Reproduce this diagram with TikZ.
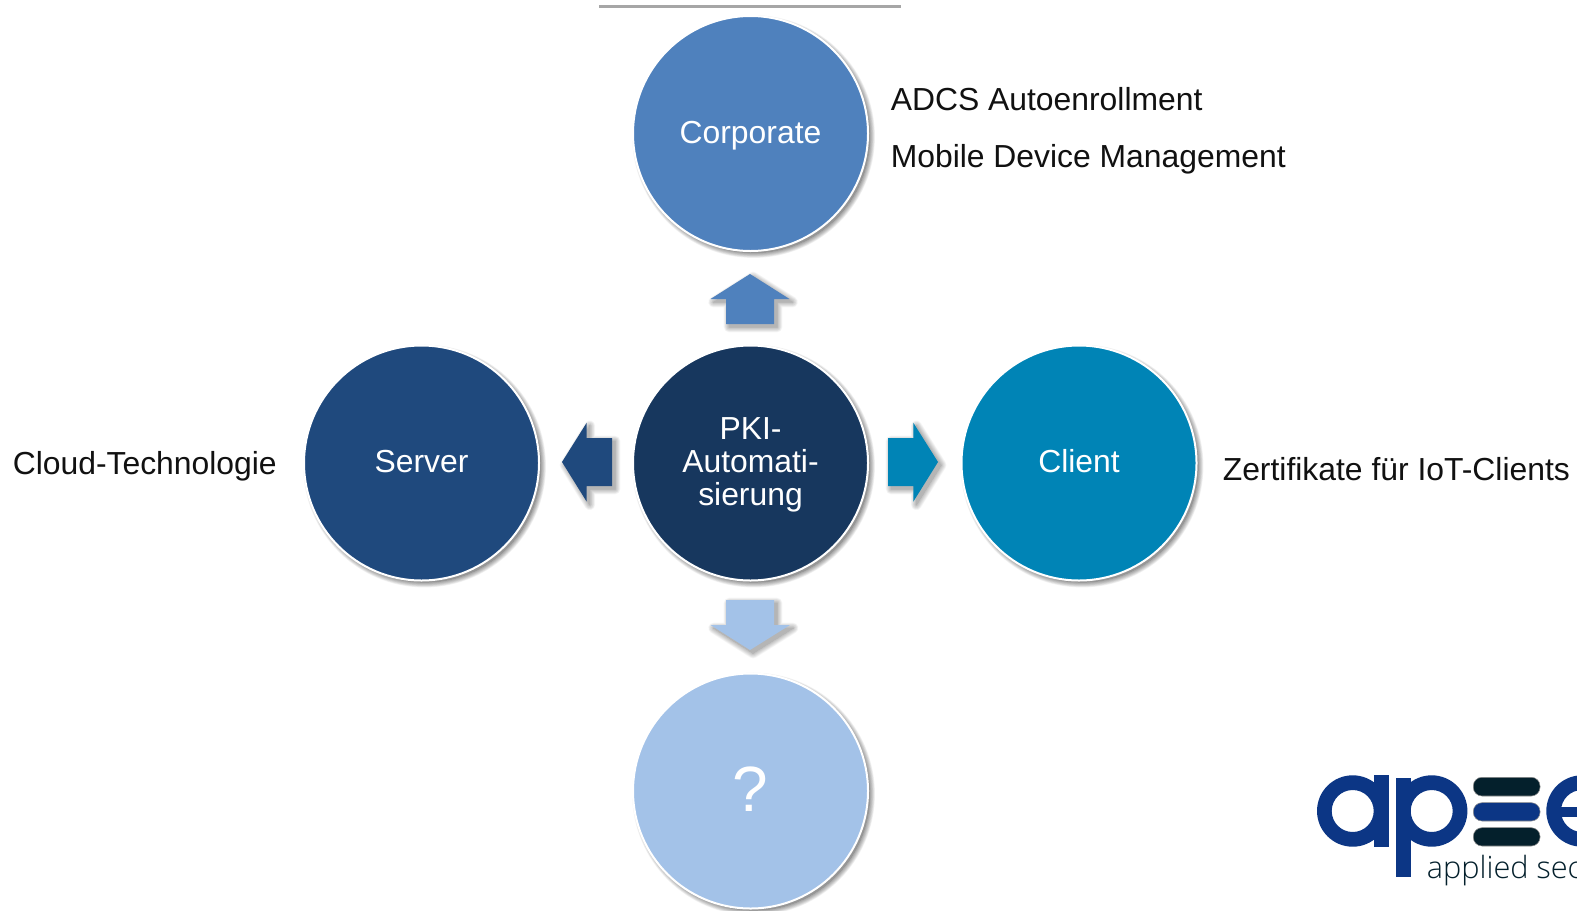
\documentclass[tikz,border=0pt]{standalone}
\usepackage{fontspec}
\setmainfont{Liberation Sans}
\newfontfamily\logofont{Open Sans Light}
\definecolor{cCorp}{HTML}{4F81BD}
\definecolor{cPki}{HTML}{17375E}
\definecolor{cServer}{HTML}{1F497D}
\definecolor{cClient}{HTML}{0084B6}
\definecolor{cQ}{HTML}{A3C2E8}
\definecolor{cInk}{HTML}{111111}
\definecolor{cLogo}{HTML}{0C3685}
\definecolor{cLogoDark}{HTML}{04202C}
\pgfdeclarelayer{shadowlayer}
\pgfsetlayers{shadowlayer,main}
\newcommand{\softshadow}[2]{%
  \begin{pgfonlayer}{shadowlayer}
  \foreach \w in {0,1,...,8}{%
    \begin{scope}[transparency group,opacity=#1,xshift=2.3pt,yshift=-2.3pt]
      \path[fill=black,draw=black,line width=\w pt,line join=round] #2;
    \end{scope}}%
  \end{pgfonlayer}}
\tikzset{
  bubble/.style={circle,draw=white,line width=1.5pt,minimum size=176.25pt,inner sep=0pt},
  bubbletext/.style={text=white,font=\fontsize{23.9pt}{24.75pt}\selectfont,anchor=base,inner sep=0pt},
  sidetext/.style={text=cInk,font=\fontsize{23.9pt}{28pt}\selectfont,anchor=base west,inner sep=0pt},
  logobar/.style={rounded corners=6.5pt,draw=black!45,line width=0.4pt}
}
\begin{document}
\begin{tikzpicture}[x=0.75pt,y=-0.75pt]
\useasboundingbox (0,0) rectangle (1577,910);
\clip (0,0) rectangle (1577,910);
\begin{pgfonlayer}{shadowlayer}
\fill[white] (0,0) rectangle (1577,910);
\end{pgfonlayer}
\draw[color=black!35,line width=1.6pt] (599,6.5) -- (901,6.5);

\node[bubble,fill=cCorp] (corp) at (750.5,133.5) {};
\node[bubble,fill=cPki] (pki) at (750.5,463) {};
\node[bubble,fill=cServer] (server) at (421.5,463) {};
\node[bubble,fill=cClient] (client) at (1079,463) {};
\node[bubble,fill=cQ] (quest) at (750.5,791) {};
\foreach \n in {corp,pki,server,client,quest}{\softshadow{.055}{([xshift=2.3pt,yshift=-2.3pt]\n.center) circle[radius=116]}}

\node[bubbletext] (corptxt) at (750.5,143) {Corporate};
\node[bubbletext] (pkia) at (750.5,439) {PKI-};
\node[bubbletext] (pkib) at (750.5,472) {Automati-};
\node[bubbletext] (pkic) at (750.5,505) {sierung};
\node[bubbletext] (servertxt) at (421.5,472.5) {Server};
\node[bubbletext] (clienttxt) at (1079,472.5) {Client};
\node[text=white,font=\fontsize{48pt}{50pt}\selectfont,anchor=base,inner sep=0pt] (questtxt) at (750.5,811.5) {?};

\node[sidetext] (adcs) at (890.5,110) {ADCS Autoenrollment};
\node[sidetext] (mdm) at (890.5,167.2) {Mobile Device Management};
\node[sidetext] (cloud) at (12.5,474) {Cloud-Technologie};
\node[sidetext] (iot) at (1222.5,480.5) {Zertifikate für IoT-Clients};

% block arrows
\def\arrUp{(750,274) -- (789.5,299) -- (774,299) -- (774,324) -- (726,324) -- (726,299) -- (710.5,299) -- cycle}
\def\arrDown{(750,650) -- (790,625) -- (774,625) -- (774,600) -- (726,600) -- (726,625) -- (710.5,625) -- cycle}
\def\arrLeft{(562,462) -- (586.7,422.7) -- (586.7,438) -- (612,438) -- (612,486) -- (586.7,486) -- (586.7,501.7) -- cycle}
\def\arrRight{(938,462) -- (913.3,422.7) -- (913.3,438) -- (888,438) -- (888,486) -- (913.3,486) -- (913.3,501.7) -- cycle}
\softshadow{.035}{\arrUp}\softshadow{.035}{\arrDown}\softshadow{.035}{\arrLeft}\softshadow{.035}{\arrRight}
\fill[cCorp] \arrUp;
\fill[cQ] \arrDown;
\fill[cServer] \arrLeft;
\fill[cClient] \arrRight;

% logo
\fill[cLogo,even odd rule] (1352.7,811) circle[radius=35.7] (1352.7,811) circle[radius=21];
\fill[cLogo] (1374,775) rectangle (1389,846.7);
\fill[cLogo,even odd rule] (1431.7,811) circle[radius=35.7] (1431.7,811) circle[radius=21];
\fill[cLogo] (1396,777.7) rectangle (1411,876.7);
\fill[cLogoDark,logobar] (1473.3,777.3) rectangle (1540,796);
\fill[cLogo,logobar] (1473.3,802.7) rectangle (1540,821);
\fill[cLogoDark,logobar] (1473.3,827.7) rectangle (1540,846);
\fill[cLogo,even odd rule] (1582,811) circle[radius=35.7] (1582,811) circle[radius=21];
\fill[cLogo] (1556,806.5) rectangle (1590,817);
\node[text=cLogoDark,font=\logofont\fontsize{23pt}{24pt}\selectfont,anchor=base west,inner sep=0pt] (logotxt) at (1426.7,878) {applied sec};
\end{tikzpicture}
\end{document}
